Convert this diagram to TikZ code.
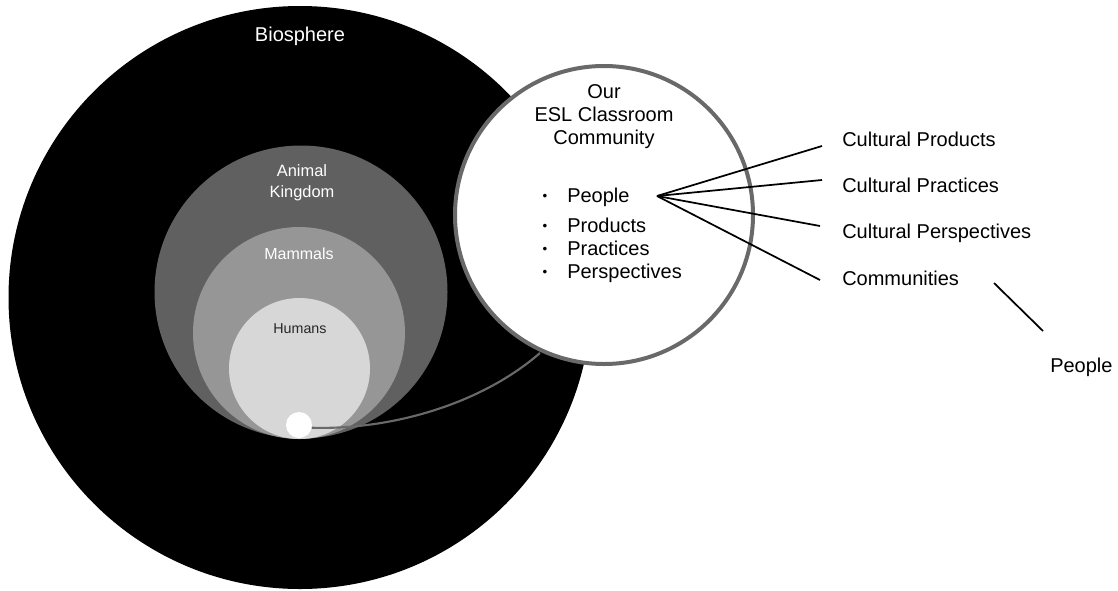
\documentclass[tikz,border=0pt]{standalone}
\usepackage{fontspec}
\setmainfont{Liberation Sans}
\definecolor{kingdomgray}{RGB}{96,96,96}
\definecolor{mammalgray}{RGB}{150,150,150}
\definecolor{humangray}{RGB}{215,215,215}
\definecolor{ringgray}{RGB}{105,105,105}

\begin{document}
\begin{tikzpicture}[x=0.75pt,y=0.75pt,yscale=-1,xscale=1,
		bigtext/.style={font=\fontsize{15}{17.25}\selectfont, inner sep=0pt},
		circtext/.style={font=\fontsize{12.3}{15.75}\selectfont, inner sep=0pt, align=center, text=white},
		listitem/.style={bigtext, anchor=base west},
		bulletmark/.style={font=\fontsize{10}{12}\selectfont, inner sep=0pt, anchor=base},
		spoke/.style={line width=1.3pt},
		]
		\useasboundingbox (0,0) rectangle (1118,590);
		% nested circles
		\fill [black] (300,297.5) circle (291.5);
		\fill [kingdomgray] (301,292) circle (146.5);
		\fill [mammalgray] (299,333) circle (106);
		\fill [humangray] (299.5,368.5) circle (70.5);
		\draw (300,41) node [bigtext, anchor=base, text=white] (bio) {Biosphere};
		\draw (302,197) node [circtext, anchor=base] (animal) {Animal\\Kingdom};
		\draw (299,259) node [circtext, anchor=base, font=\fontsize{12}{14}\selectfont] (mammal) {Mammals};
		\draw (300,333) node [circtext, anchor=base, text=black!85, font=\fontsize{10.7}{13}\selectfont] (human) {Humans};
		\node [circle, fill=white, inner sep=0pt, minimum size=19.5pt] (dot) at (299,425) {};
		% classroom circle
		\draw [ringgray, line width=1.6pt] (dot.-12) .. controls (390,430) and (480,405) .. (540,353);
		\node [circle, draw=ringgray, line width=3pt, fill=white, inner sep=0pt, minimum size=223.5pt] (esl) at (604,215) {};
		\node [bigtext, align=center] (title) at (604,117) {Our\\ESL Classroom\\Community};
		\foreach \nm/\txt/\yy in {people/People/202, products/Products/232, practices/Practices/255, perspectives/Perspectives/278}{
			\node [listitem] (\nm) at (567,\yy) {\txt};
			\node [bulletmark] (\nm-b) at (545,\yy-2) {\textbullet};
		}
		% cultural branches
		\coordinate (hub) at (657,196);
		\node [listitem] (cprod) at (842,146) {Cultural Products};
		\node [listitem] (cprac) at (842,192) {Cultural Practices};
		\node [listitem] (cpers) at (842,238) {Cultural Perspectives};
		\node [listitem] (comm) at (842,285) {Communities};
		\node [listitem] (folk) at (1050,372) {People};
		\coordinate (e1) at (822,146);
		\coordinate (e2) at (822,180);
		\coordinate (e3) at (820,226);
		\coordinate (e4) at (820,280);
		\foreach \e in {e1,e2,e3,e4}
			\draw [spoke] (hub) -- (\e);
		\coordinate (s1) at (994,283);
		\coordinate (s2) at (1043,331);
		\draw [spoke] (s1) -- (s2);
\end{tikzpicture}
\end{document}
